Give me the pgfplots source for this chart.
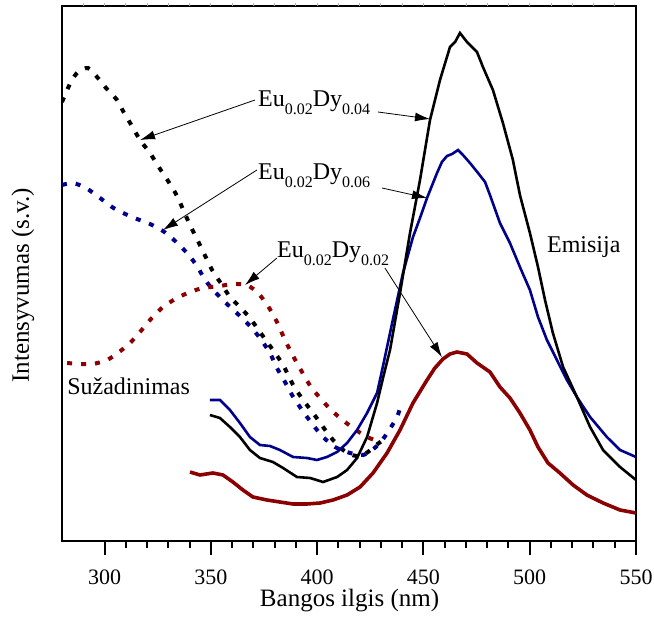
\documentclass[border=0pt]{standalone}
\usepackage{pgfplots}
\pgfplotsset{compat=1.18}
\usepackage{fontspec}
\setmainfont{Liberation Serif}
\usetikzlibrary{arrows.meta,calc}
\definecolor{cblue}{RGB}{0,0,139}
\definecolor{cred}{RGB}{139,0,0}
\newcommand{\sub}[1]{\raisebox{-8bp}{\fontsize{16bp}{16bp}\selectfont #1}}
\newcommand{\lbl}[1]{Eu\sub{0.02}Dy\sub{#1}}
\begin{document}
\begin{tikzpicture}
\begin{axis}[name=ax,
  scale only axis, width=574bp, height=535bp,
  xmin=280, xmax=550, ymin=0, ymax=535,
  ytick=\empty,
  xtick={300,350,...,550}, minor x tick num=4,
  xtick pos=left, xtick align=outside,
  major tick length=14bp, minor tick length=7bp,
  tick style={black, line width=2bp},
  axis line style={line width=2.5bp},
  /pgf/number format/assume math mode=true,
  xticklabel style={font=\fontsize{22bp}{26bp}\selectfont, yshift=-11bp},
  xlabel={Bangos ilgis (nm)},
  ylabel={Intensyvumas (s.v.)},
  every axis x label/.style={at={(axis description cs:0.501,-0.111)}, anchor=center, font=\fontsize{25bp}{30bp}\selectfont},
  every axis y label/.style={at={(axis description cs:-0.068,0.478)}, anchor=center, rotate=90, font=\fontsize{25bp}{30bp}\selectfont},
  exc/.style={line width=4bp, dash pattern=on 5bp off 9bp, smooth, tension=0.4},
]
% excitation (dotted)
\addplot[black, exc] coordinates {
(280.0,439)(282.4,451)(284.7,461)(287.5,469)(292.2,473)(296.9,463)(300.7,453)(305.9,441)(309.2,428)(312.9,415)(316.7,401)(321.4,388)(325.2,375)(329.9,360)(334.1,345)(340.2,316)(344.9,296)(350.6,271)(355.3,256)(359.0,244)(363.7,234)(368.4,223)(373.1,209)(379.2,191)(384.0,176)(388.7,156)(393.4,141)(398.1,128)(402.8,114)(407.5,101)(412.2,91)(416.4,86)(420.2,85)(423.9,89)(427.2,95)(431.0,101)};
\addplot[cblue, exc] coordinates {
(280.0,356)(285.2,358)(291.3,353)(297.9,343)(303.5,334)(308.7,328)(315.3,322)(321.4,317)(327.5,310)(332.2,302)(338.8,288)(343.5,275)(347.3,261)(352.0,249)(357.6,237)(363.7,225)(368.4,215)(373.1,203)(377.8,188)(381.1,173)(384.9,159)(388.2,146)(392.9,131)(398.1,116)(402.8,104)(408.4,94)(415.5,88)(421.6,86)(425.8,91)(429.6,98)(433.3,109)(437.6,124)(439.9,139)};
\addplot[cred, exc] coordinates {
(282.4,178)(288.5,177)(294.6,177)(301.2,181)(306.3,188)(312.0,198)(316.7,209)(321.4,221)(327.5,234)(334.1,243)(340.2,249)(346.3,253)(354.3,255)(360.4,257)(367.0,256)(372.2,248)(376.9,235)(381.1,219)(384.9,201)(388.7,185)(392.9,169)(397.1,154)(401.4,143)(406.1,132)(410.8,123)(416.9,113)(423.5,104)(429.6,99)};
% emission (solid)
\addplot[cblue, line width=2.6bp] coordinates {
(349.6,141)(354.3,141)(359.0,131)(363.7,118)(368.4,104)(373.1,96)(377.8,95)(382.5,91)(388.7,84)(395.2,83)(399.9,81)(404.6,84)(409.4,89)(414.1,98)(418.8,111)(423.5,128)(428.2,148)(431.0,175)(433.3,198)(435.7,222)(440.4,268)(445.1,304)(448.4,323)(451.7,343)(456.4,368)(458.7,379)(461.1,385)(463.5,387)(466.3,391)(468.6,386)(471.9,378)(475.7,368)(479.0,359)(481.3,346)(486.0,318)(490.7,298)(495.4,274)(500.1,251)(503.9,224)(508.1,201)(512.8,181)(517.5,161)(522.2,144)(528.4,124)(536.3,104)(542.5,91)(550.0,84)};
\addplot[black, line width=2.6bp] coordinates {
(349.6,126)(354.3,123)(359.0,114)(363.7,104)(368.4,91)(373.1,83)(379.2,79)(384.0,73)(390.5,64)(396.7,63)(402.8,59)(409.4,64)(414.1,71)(418.8,83)(423.5,104)(428.2,138)(431.0,163)(434.3,191)(439.0,248)(443.7,308)(448.4,361)(453.1,421)(457.8,461)(462.5,494)(464.9,499)(467.2,508)(470.5,499)(475.2,489)(478.0,474)(482.7,451)(487.4,418)(492.1,381)(495.4,346)(500.1,308)(503.9,274)(507.2,241)(510.9,208)(515.7,174)(522.2,144)(528.4,114)(534.5,91)(542.5,74)(550.0,61)};
\addplot[cred, line width=3.6bp] coordinates {
(340.2,69)(344.9,66)(351.0,68)(355.7,66)(360.4,59)(365.1,51)(369.8,44)(376.4,41)(382.5,39)(388.7,37)(395.2,37)(401.4,38)(407.5,41)(414.1,46)(420.2,54)(426.3,68)(432.9,88)(439.0,111)(445.1,138)(451.7,161)(455.4,173)(459.2,182)(462.5,187)(465.8,189)(470.5,187)(475.2,178)(481.3,169)(486.0,154)(490.7,143)(495.4,128)(500.1,111)(503.9,94)(508.6,78)(514.2,68)(520.4,56)(526.9,46)(534.5,38)(542.5,31)(550.0,28)};
% annotations
\begin{scope}[font=\fontsize{24bp}{28bp}\selectfont]
\node[anchor=base west, inner sep=0pt] at (axis cs:372.2,434) {\lbl{0.04}};
\node[anchor=base west, inner sep=0pt] at (axis cs:372.2,361) {\lbl{0.06}};
\node[anchor=base west, inner sep=0pt] at (axis cs:381.1,283) {\lbl{0.02}};
\node[anchor=base west, inner sep=0pt] at (axis cs:508.1,288) {Emisija};
\node[anchor=base west, inner sep=0pt] at (axis cs:282.4,146) {Sužadinimas};
\end{scope}
\begin{scope}[line width=0.8bp, -{Latex[length=15bp,width=9bp]}]
\draw (axis cs:370.8,441) -- (axis cs:316.7,401);
\draw (axis cs:428.6,429) -- (axis cs:453.1,422);
\draw (axis cs:371.7,371) -- (axis cs:327.5,311);
\draw (axis cs:430.5,353) -- (axis cs:451.7,343);
\draw (axis cs:381.1,283) -- (axis cs:366.1,256);
\draw (axis cs:431.9,273) -- (axis cs:458.7,184);
\end{scope}
\end{axis}
\begin{axis}[
  scale only axis, width=574bp, height=535bp,
  xmin=280, xmax=550, ymin=0, ymax=535,
  axis x line*=top, axis y line=none,
  xtick={290,300,...,540}, xticklabels={},
  xtick align=outside, major tick length=3bp,
  tick style={gray!60, line width=0.8bp},
  axis line style={draw=none},
]
\end{axis}
\pgfresetboundingbox
\path[use as bounding box] ($(ax.south west)+(-62bp,-78bp)$) rectangle ($(ax.north east)+(18bp,6bp)$);
\end{tikzpicture}
\end{document}
